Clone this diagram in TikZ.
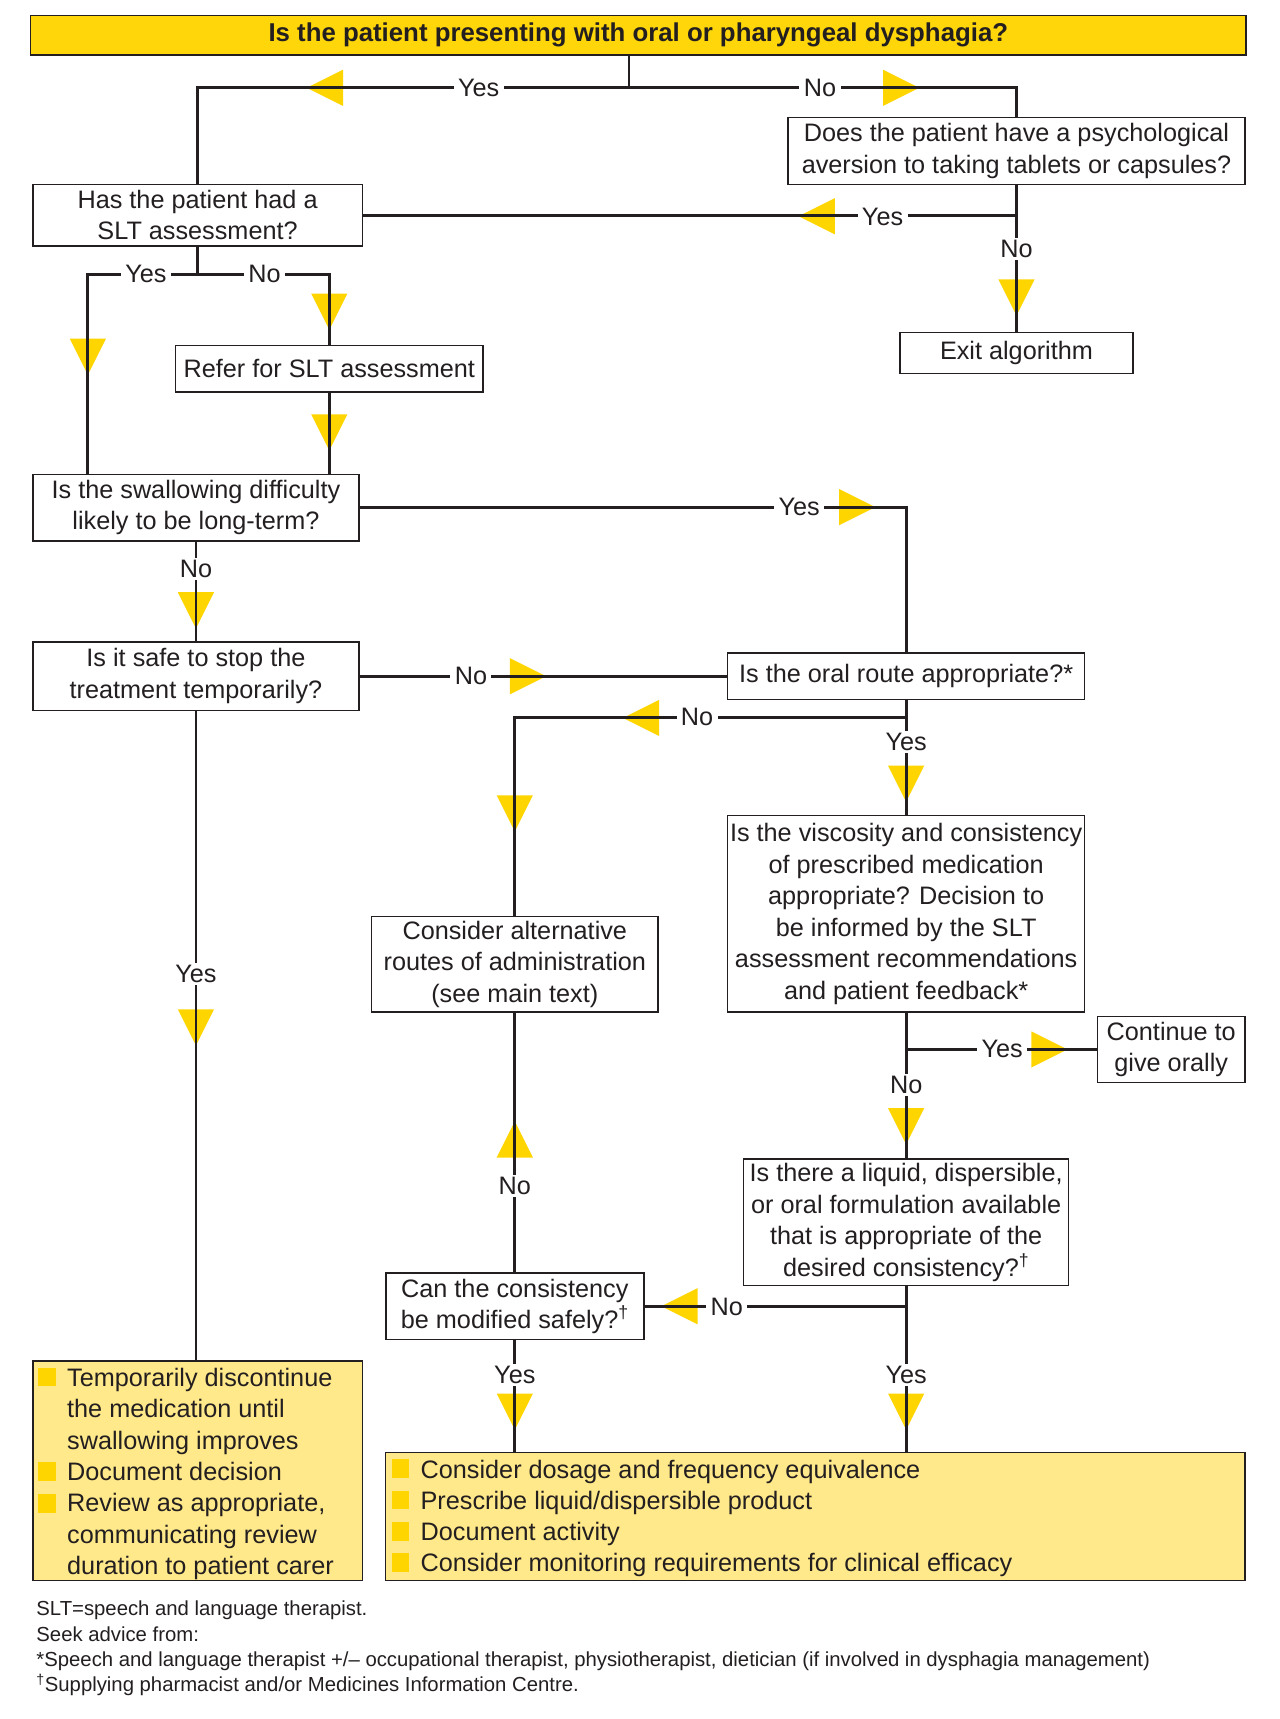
\documentclass[tikz,border=0pt]{standalone}
\usepackage{fontspec}
\setmainfont{Liberation Sans}
\definecolor{titleyel}{HTML}{FFD60A}
\definecolor{boxyel}{HTML}{FFE98A}
\definecolor{triyel}{HTML}{FFD500}
\definecolor{ink}{HTML}{231F20}
\begin{document}
\begin{tikzpicture}[x=1pt,y=-1pt,
  every node/.style={font=\fontsize{23}{28.7}\selectfont, text=ink},
  box/.style={draw=ink, line width=1.3pt, align=center, inner sep=0pt, fill=white},
  ybox/.style={draw=ink, line width=1.3pt, inner sep=0pt, fill=boxyel},
  lbl/.style={fill=white, inner xsep=4pt, inner ysep=2pt},
  conn/.style={draw=ink, line width=2.6pt},
  txtline/.style={anchor=base west, inner sep=0pt},
  foot/.style={anchor=base west, inner sep=0pt, font=\fontsize{18.5}{23}\selectfont},
  bullet/.style={fill=triyel},
  tridown/.pic={\fill[triyel] (-16.5,-16.5) -- (16.5,-16.5) -- (0,16.5) -- cycle;},
  triup/.pic={\fill[triyel] (-16.5,16.5) -- (16.5,16.5) -- (0,-16.5) -- cycle;},
  trileft/.pic={\fill[triyel] (16.5,-16.5) -- (16.5,16.5) -- (-16.5,0) -- cycle;},
  triright/.pic={\fill[triyel] (-16.5,-16.5) -- (-16.5,16.5) -- (16.5,0) -- cycle;}
]
\fill[white] (0,0) rectangle (1166,1566);
\useasboundingbox (0,0) rectangle (1166,1566);

% boxes
\node[box, fill=titleyel, minimum width=1107pt, minimum height=36pt, font=\fontsize{23.5}{28}\selectfont\bfseries] (title) at (581.5,32) {Is the patient presenting with oral or pharyngeal dysphagia?};
\node[box, minimum width=416pt, minimum height=61pt] (psych) at (926,137.5) {Does the patient have a psychological\\aversion to taking tablets or capsules?};
\node[box, minimum width=300pt, minimum height=56pt] (slt) at (180,196) {Has the patient had a\\SLT assessment?};
\node[box, minimum width=280pt, minimum height=42pt] (refer) at (300,336) {Refer for SLT assessment};
\node[box, minimum width=212pt, minimum height=37pt] (exit) at (926,321.5) {Exit algorithm};
\node[box, minimum width=297pt, minimum height=61pt] (swal) at (178.5,462.5) {Is the swallowing difficulty\\likely to be long-term?};
\node[box, minimum width=297pt, minimum height=62pt] (safe) at (178.5,616) {Is it safe to stop the\\treatment temporarily?};
\node[box, minimum width=325pt, minimum height=42pt] (oral) at (825.5,616) {Is the oral route appropriate?*};
\node[box, minimum width=325pt, minimum height=179pt] (visc) at (825.5,832.5) {Is the viscosity and consistency\\of prescribed medication\\appropriate? Decision to\\be informed by the SLT\\assessment recommendations\\and patient feedback*};
\node[box, minimum width=261pt, minimum height=87pt] (alt) at (469,878.5) {Consider alternative\\routes of administration\\(see main text)};
\node[box, minimum width=134pt, minimum height=60pt] (cont) at (1067,956) {Continue to\\give orally};
\node[box, minimum width=296pt, minimum height=115pt] (liquid) at (825.5,1113.5) {Is there a liquid, dispersible,\\or oral formulation available\\that is appropriate of the\\desired consistency?\textsuperscript{†}};
\node[box, minimum width=235pt, minimum height=61pt] (can) at (469,1190) {Can the consistency\\be modified safely?\textsuperscript{†}};
\node[ybox, minimum width=300pt, minimum height=200pt] (ltemp) at (180,1340) {};
\node[ybox, minimum width=783pt, minimum height=117pt] (rbox) at (742.5,1381.5) {};

% triangles
\pic at (296,80) {trileft};
\pic at (821,80) {triright};
\pic at (744,197) {trileft};
\pic at (926,271) {tridown};
\pic at (80,325) {tridown};
\pic at (300,284) {tridown};
\pic at (300,394) {tridown};
\pic at (781,462) {triright};
\pic at (178.5,556) {tridown};
\pic at (481,616) {triright};
\pic at (584,654) {trileft};
\pic at (469,741) {tridown};
\pic at (825.5,714) {tridown};
\pic at (956,956) {triright};
\pic at (825.5,1026) {tridown};
\pic at (469,1038) {triup};
\pic at (619,1190) {trileft};
\pic at (825.5,1286) {tridown};
\pic at (469,1286) {tridown};
\pic at (178.5,936) {tridown};

% junction coordinates
\coordinate (j1) at (573,80);
\coordinate (j2) at (926,196);
\coordinate (j3) at (180,250);
\coordinate (j3l) at (80,250);
\coordinate (j4) at (825.5,654);
\coordinate (j5) at (825.5,956);
\coordinate (j6) at (825.5,1190);

% connectors
\draw[conn] (title.south -| j1) -- (j1);
\draw[conn] (slt.north) -- (slt.north |- j1) -- (psych.north |- j1) -- (psych.north);
\draw[conn] (psych.south) -- (exit.north);
\draw[conn] (j2) -- (j2 -| slt.east);
\draw[conn] (slt.south) -- (j3);
\draw[conn] (j3l |- swal.north) -- (j3l) -- (refer.north |- j3) -- (refer.north);
\draw[conn] (refer.south) -- (refer.south |- swal.north);
\draw[conn] (swal.east) -| (oral.north);
\draw[conn] (swal.south) -- (safe.north);
\draw[conn] (safe.east) -- (oral.west);
\draw[conn] (oral.south) -- (visc.north);
\draw[conn] (j4) -| (alt.north);
\draw[conn] (safe.south) -- (safe.south |- ltemp.north);
\draw[conn] (visc.south) -- (liquid.north);
\draw[conn] (j5) -- (cont.west);
\draw[conn] (liquid.south) -- (liquid.south |- rbox.north);
\draw[conn] (j6) -- (can.east);
\draw[conn] (can.north) -- (alt.south);
\draw[conn] (can.south) -- (can.south |- rbox.north);

% labels
\node[lbl] (l1) at (436,80) {Yes};
\node[lbl] (l2) at (747,80) {No};
\node[lbl] (l3) at (804,198) {Yes};
\node[lbl] (l4) at (926,227) {No};
\node[lbl] (l5) at (133,250) {Yes};
\node[lbl] (l6) at (241,250) {No};
\node[lbl] (l7) at (728,462) {Yes};
\node[lbl] (l8) at (178.5,518) {No};
\node[lbl] (l9) at (429,616) {No};
\node[lbl] (l10) at (635,653) {No};
\node[lbl] (l11) at (825.5,676) {Yes};
\node[lbl] (l12) at (913,956) {Yes};
\node[lbl] (l13) at (825.5,988) {No};
\node[lbl] (l14) at (469,1080) {No};
\node[lbl] (l15) at (662,1191) {No};
\node[lbl] (l16) at (469,1253) {Yes};
\node[lbl] (l17) at (825.5,1253) {Yes};
\node[lbl] (l18) at (178.5,887) {Yes};

% left yellow box content
\fill[bullet] (35,1246) rectangle (51,1263);
\fill[bullet] (35,1332) rectangle (51,1349);
\fill[bullet] (35,1361) rectangle (51,1378);
\node[txtline] (a1) at (61,1263) {Temporarily discontinue};
\node[txtline] (a2) at (61,1291.6) {the medication until};
\node[txtline] (a3) at (61,1320.2) {swallowing improves};
\node[txtline] (a4) at (61,1348.8) {Document decision};
\node[txtline] (a5) at (61,1377.4) {Review as appropriate,};
\node[txtline] (a6) at (61,1406) {communicating review};
\node[txtline] (a7) at (61,1434.6) {duration to patient carer};

% right yellow box content
\fill[bullet] (357,1329.5) rectangle (373,1346.5);
\fill[bullet] (357,1358) rectangle (373,1375);
\fill[bullet] (357,1386.5) rectangle (373,1403.5);
\fill[bullet] (357,1415) rectangle (373,1432);
\node[txtline] (b1) at (383,1346.5) {Consider dosage and frequency equivalence};
\node[txtline] (b2) at (383,1375) {Prescribe liquid/dispersible product};
\node[txtline] (b3) at (383,1403.5) {Document activity};
\node[txtline] (b4) at (383,1432) {Consider monitoring requirements for clinical efficacy};

% footer
\node[foot] (f1) at (33,1472) {SLT=speech and language therapist.};
\node[foot] (f2) at (33,1495) {Seek advice from:};
\node[foot] (f3) at (33,1518) {*Speech and language therapist +/– occupational therapist, physiotherapist, dietician (if involved in dysphagia management)};
\node[foot] (f4) at (33,1541) {\textsuperscript{†}Supplying pharmacist and/or Medicines Information Centre.};
\end{tikzpicture}
\end{document}
